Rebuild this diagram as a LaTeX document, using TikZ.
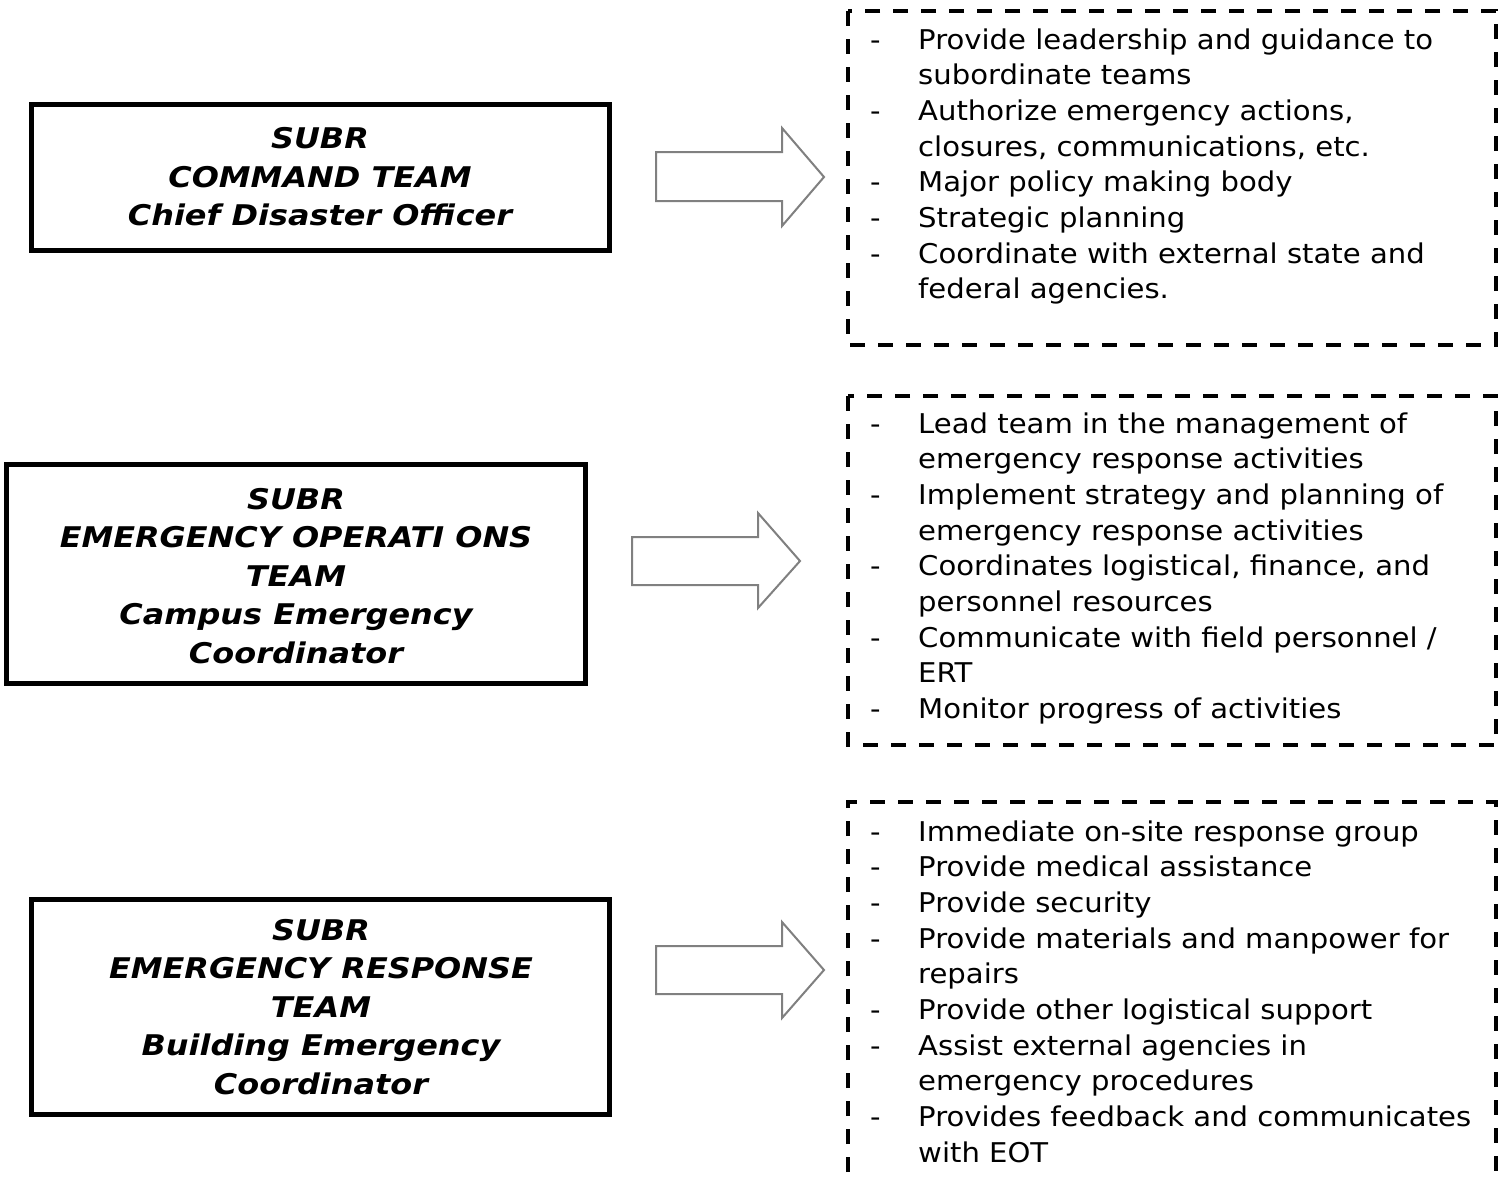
\documentclass[tikz,border=0pt]{standalone}
\usepackage{fontspec}
\setmainfont{DejaVu Sans}
\newfontfamily\bulletfont[FakeStretch=1.07]{DejaVu Sans}
\newfontfamily\titlefont[FakeStretch=1.12]{DejaVu Sans}
\tikzset{
  teambox/.style={draw=black, line width=5pt, inner sep=0pt},
  teamtext/.style={align=center, inner sep=0pt, font=\titlefont\fontsize{28.5}{38.6}\selectfont\bfseries\itshape},
  dutybox/.style={draw=black, line width=3.5pt, dash pattern=on 15pt off 13pt},
  dutytext/.style={anchor=base west, inner sep=0pt},
  blockarrow/.style={draw=black!50, line width=2pt, fill=white, line join=miter}
}
\newcommand{\itm}[1]{\makebox[48pt][l]{-}#1}
\newcommand{\cnt}[1]{\hspace*{48pt}#1}
\newcommand{\duty}[1]{\parbox[t]{640pt}{\bulletfont\fontsize{27.2}{35.7}\selectfont #1}}
\begin{document}
\begin{tikzpicture}[x=1pt,y=-1pt]
\useasboundingbox (0,0) rectangle (1504,1183);
\fill[white] (0,0) rectangle (1504,1183);

% left team boxes
\draw[teambox] (31,104) rectangle (609,250);
\node[teamtext] (t1) at (320,177) {SUBR\\COMMAND TEAM\\Chief Disaster Officer};

\draw[teambox] (6,464) rectangle (585,683);
\node[teamtext] (t2) at (296,576) {SUBR\\EMERGENCY OPERATI ONS\\TEAM\\Campus Emergency\\Coordinator};

\draw[teambox] (31,899) rectangle (609,1114);
\node[teamtext] (t3) at (321,1007) {SUBR\\EMERGENCY RESPONSE\\TEAM\\Building Emergency\\Coordinator};

% block arrows
\draw[blockarrow] (656,152) -- (782,152) -- (782,128) -- (824,177) -- (782,226) -- (782,201) -- (656,201) -- cycle;
\draw[blockarrow] (632,537) -- (758,537) -- (758,513) -- (800,561) -- (758,608) -- (758,585) -- (632,585) -- cycle;
\draw[blockarrow] (656,946) -- (782,946) -- (782,922) -- (824,970) -- (782,1018) -- (782,994) -- (656,994) -- cycle;

% dashed duty boxes
\draw[dutybox] (848,11) rectangle (1496,345);
\node[dutytext] (d1) at (870,49) {\duty{%
\itm{Provide leadership and guidance to}\\
\cnt{subordinate teams}\\
\itm{Authorize emergency actions,}\\
\cnt{closures, communications, etc.}\\
\itm{Major policy making body}\\
\itm{Strategic planning}\\
\itm{Coordinate with external state and}\\
\cnt{federal agencies.}}};

\draw[dutybox] (848,396) rectangle (1496,745);
\node[dutytext] (d2) at (870,433) {\duty{%
\itm{Lead team in the management of}\\
\cnt{emergency response activities}\\
\itm{Implement strategy and planning of}\\
\cnt{emergency response activities}\\
\itm{Coordinates logistical, finance, and}\\
\cnt{personnel resources}\\
\itm{Communicate with field personnel /}\\
\cnt{ERT}\\
\itm{Monitor progress of activities}}};

\draw[dutybox] (848,1200) -- (848,802) -- (1496,802) -- (1496,1200);
\node[dutytext] (d3) at (870,841) {\duty{%
\itm{Immediate on-site response group}\\
\itm{Provide medical assistance}\\
\itm{Provide security}\\
\itm{Provide materials and manpower for}\\
\cnt{repairs}\\
\itm{Provide other logistical support}\\
\itm{Assist external agencies in}\\
\cnt{emergency procedures}\\
\itm{Provides feedback and communicates}\\
\cnt{with EOT}}};
\end{tikzpicture}
\end{document}
